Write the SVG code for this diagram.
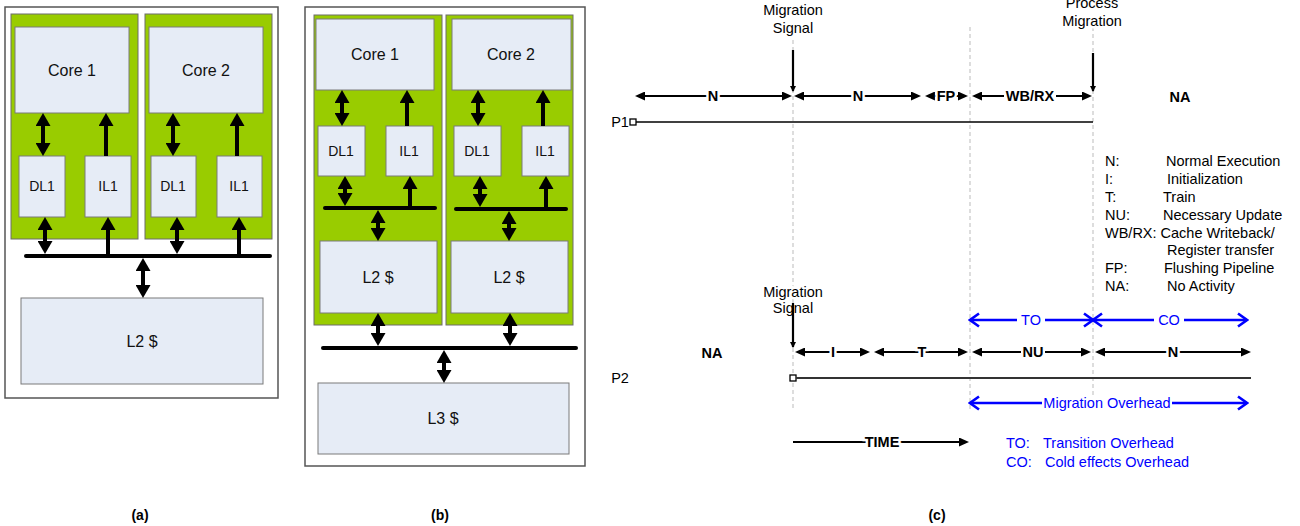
<svg xmlns="http://www.w3.org/2000/svg" width="1300" height="526" viewBox="0 0 1300 526">
<style>
text{font-family:"Liberation Sans",Arial,sans-serif;}
.outer{fill:#fff;stroke:#555;stroke-width:1.5;}
.green{fill:#99cc00;stroke:#6d6d6d;stroke-width:1;}
.box{fill:#e6ecf6;stroke:#7a7a7a;stroke-width:1;}
.t16{font-size:16px;text-anchor:middle;fill:#111;}
.t14{font-size:14px;text-anchor:middle;fill:#111;}
.bus{stroke:#000;stroke-width:4;stroke-linecap:round;}
.big{stroke:#000;stroke-width:4;fill:none;}
.tl{stroke:#000;stroke-width:2.2;fill:none;}
.bl{stroke:#0000ff;stroke-width:2.5;fill:none;}
.lab{font-size:14.5px;text-anchor:middle;fill:#000;}
.bold{font-size:14.5px;font-weight:bold;text-anchor:middle;fill:#000;}
.halo{stroke:#fff;stroke-width:5;paint-order:stroke;}
.blue{font-size:14.5px;text-anchor:middle;fill:#0000ff;}
.leg{font-size:14.5px;fill:#000;}
.bleg{font-size:14.5px;fill:#0000ff;}
.dash{stroke:#bbb;stroke-width:1;stroke-dasharray:4,3;}
.cap{font-size:14px;font-weight:bold;text-anchor:middle;fill:#000;}
.bg{fill:#fff;}
</style>
<defs>
<marker id="bh" viewBox="0 0 13 15" markerWidth="13" markerHeight="15" refX="4" refY="7.5" markerUnits="userSpaceOnUse" orient="auto-start-reverse"><path d="M0,0 L13,7.5 L0,15 z" fill="#000"/></marker>
<marker id="th" viewBox="0 0 10 9" markerWidth="10" markerHeight="9" refX="5" refY="4.5" markerUnits="userSpaceOnUse" orient="auto-start-reverse"><path d="M0,0 L10,4.5 L0,9 z" fill="#000"/></marker>
<marker id="sh" viewBox="0 0 6 6" markerWidth="6" markerHeight="6" refX="5" refY="3" markerUnits="userSpaceOnUse" orient="auto-start-reverse"><path d="M0,0 L6,3 L0,6 z" fill="#000"/></marker>
<marker id="bc" viewBox="-2 -2 13 17" markerWidth="13" markerHeight="17" refX="9" refY="6.5" markerUnits="userSpaceOnUse" orient="auto-start-reverse"><path d="M0,0 L9,6.5 L0,13" fill="none" stroke="#0000ff" stroke-width="2.6"/></marker>
</defs>

<!-- Panel (a) -->
<g id="panel-a">
<rect class="outer" x="5" y="7" width="273" height="391"/>
<g id="a-cluster1"><rect class="green" x="11" y="14" width="127" height="225"/></g>
<g id="a-cluster2"><rect class="green" x="145" y="14" width="127" height="225"/></g>
<g id="a-core1"><rect class="box" x="15" y="27" width="114" height="86"/><text class="t16" x="72" y="76">Core 1</text></g>
<g id="a-core2"><rect class="box" x="149" y="27" width="114" height="86"/><text class="t16" x="206" y="76">Core 2</text></g>
<g id="a-dl1-1"><rect class="box" x="19" y="156" width="46" height="61"/><text class="t14" x="42" y="191">DL1</text></g>
<g id="a-il1-1"><rect class="box" x="85" y="156" width="46" height="61"/><text class="t14" x="108" y="191">IL1</text></g>
<g id="a-dl1-2"><rect class="box" x="151" y="156" width="45" height="61"/><text class="t14" x="173" y="191">DL1</text></g>
<g id="a-il1-2"><rect class="box" x="217" y="156" width="45" height="61"/><text class="t14" x="239" y="191">IL1</text></g>
<g id="a-l2"><rect class="box" x="21" y="298" width="242" height="86"/><text class="t16" x="142" y="347">L2 $</text></g>
</g>

<!-- Panel (b) -->
<g id="panel-b">
<rect class="outer" x="305" y="7" width="280" height="459"/>
<g id="b-cluster1"><rect class="green" x="314" y="15" width="128" height="310"/></g>
<g id="b-cluster2"><rect class="green" x="446" y="15" width="127" height="310"/></g>
<g id="b-core1"><rect class="box" x="316" y="19" width="118" height="71"/><text class="t16" x="375" y="60">Core 1</text></g>
<g id="b-core2"><rect class="box" x="452" y="19" width="119" height="71"/><text class="t16" x="511" y="60">Core 2</text></g>
<g id="b-dl1-1"><rect class="box" x="318" y="126" width="47" height="50"/><text class="t14" x="341" y="156">DL1</text></g>
<g id="b-il1-1"><rect class="box" x="386" y="126" width="47" height="50"/><text class="t14" x="409" y="156">IL1</text></g>
<g id="b-dl1-2"><rect class="box" x="454" y="126" width="47" height="50"/><text class="t14" x="477" y="156">DL1</text></g>
<g id="b-il1-2"><rect class="box" x="522" y="126" width="47" height="50"/><text class="t14" x="545" y="156">IL1</text></g>
<g id="b-l2-1"><rect class="box" x="320" y="241" width="117" height="72"/><text class="t16" x="378" y="283">L2 $</text></g>
<g id="b-l2-2"><rect class="box" x="451" y="241" width="117" height="72"/><text class="t16" x="509" y="283">L2 $</text></g>
<g id="b-l3"><rect class="box" x="318" y="383" width="251" height="71"/><text class="t16" x="443" y="424">L3 $</text></g>
</g>

<!-- Connectors -->
<g id="connectors">
<!-- panel a -->
<line class="bus" x1="26" y1="256" x2="270" y2="256"/>
<line class="big" x1="43" y1="122" x2="43" y2="147" marker-start="url(#bh)" marker-end="url(#bh)"/>
<line class="big" x1="106" y1="156" x2="106" y2="122" marker-end="url(#bh)"/>
<line class="big" x1="45" y1="226" x2="45" y2="245" marker-start="url(#bh)" marker-end="url(#bh)"/>
<line class="big" x1="108" y1="255" x2="108" y2="226" marker-end="url(#bh)"/>
<line class="big" x1="173" y1="122" x2="173" y2="147" marker-start="url(#bh)" marker-end="url(#bh)"/>
<line class="big" x1="237" y1="156" x2="237" y2="122" marker-end="url(#bh)"/>
<line class="big" x1="177" y1="226" x2="177" y2="245" marker-start="url(#bh)" marker-end="url(#bh)"/>
<line class="big" x1="239" y1="255" x2="239" y2="226" marker-end="url(#bh)"/>
<line class="big" x1="143" y1="267" x2="143" y2="289" marker-start="url(#bh)" marker-end="url(#bh)"/>
<!-- panel b -->
<line class="bus" x1="325" y1="208" x2="435" y2="208"/>
<line class="bus" x1="456" y1="209" x2="566" y2="209"/>
<line class="bus" x1="323" y1="348" x2="576" y2="348"/>
<line class="big" x1="342" y1="99" x2="342" y2="117" marker-start="url(#bh)" marker-end="url(#bh)"/>
<line class="big" x1="407" y1="126" x2="407" y2="99" marker-end="url(#bh)"/>
<line class="big" x1="345" y1="185" x2="345" y2="197" marker-start="url(#bh)" marker-end="url(#bh)"/>
<line class="big" x1="410" y1="207" x2="410" y2="185" marker-end="url(#bh)"/>
<line class="big" x1="378" y1="219" x2="378" y2="232" marker-start="url(#bh)" marker-end="url(#bh)"/>
<line class="big" x1="478" y1="99" x2="478" y2="117" marker-start="url(#bh)" marker-end="url(#bh)"/>
<line class="big" x1="543" y1="126" x2="543" y2="99" marker-end="url(#bh)"/>
<line class="big" x1="480" y1="185" x2="480" y2="198" marker-start="url(#bh)" marker-end="url(#bh)"/>
<line class="big" x1="546" y1="208" x2="546" y2="185" marker-end="url(#bh)"/>
<line class="big" x1="509" y1="220" x2="509" y2="232" marker-start="url(#bh)" marker-end="url(#bh)"/>
<line class="big" x1="378" y1="322" x2="378" y2="337" marker-start="url(#bh)" marker-end="url(#bh)"/>
<line class="big" x1="510" y1="322" x2="510" y2="337" marker-start="url(#bh)" marker-end="url(#bh)"/>
<line class="big" x1="444" y1="359" x2="444" y2="374" marker-start="url(#bh)" marker-end="url(#bh)"/>

<!-- panel c dashed guides -->
<line class="dash" x1="793" y1="33" x2="793" y2="410"/>
<line class="dash" x1="970" y1="27" x2="970" y2="410"/>
<line class="dash" x1="1093" y1="27" x2="1093" y2="395"/>

<!-- signal arrows -->
<line class="tl" stroke-width="1.5" x1="793" y1="50" x2="793" y2="91" marker-end="url(#sh)"/>
<line class="tl" stroke-width="1.5" x1="1093" y1="53" x2="1093" y2="91" marker-end="url(#sh)"/>
<line class="tl" stroke-width="1.5" x1="793" y1="303" x2="793" y2="347" marker-end="url(#sh)"/>

<!-- P1 row -->
<line class="tl" x1="640" y1="96" x2="787" y2="96" marker-start="url(#th)" marker-end="url(#th)"/>
<line class="tl" x1="799" y1="96" x2="916" y2="96" marker-start="url(#th)" marker-end="url(#th)"/>
<line class="tl" x1="930" y1="96" x2="963" y2="96" marker-start="url(#th)" marker-end="url(#th)"/>
<line class="tl" x1="977" y1="96" x2="1087" y2="96" marker-start="url(#th)" marker-end="url(#th)"/>
<rect x="630" y="119" width="6" height="6" fill="#fff" stroke="#000" stroke-width="1.3"/>
<line stroke="#000" stroke-width="1.5" x1="636" y1="122" x2="1093" y2="122"/>

<!-- P2 row -->
<line class="tl" x1="800" y1="352" x2="865" y2="352" marker-start="url(#th)" marker-end="url(#th)"/>
<line class="tl" x1="879" y1="352" x2="963" y2="352" marker-start="url(#th)" marker-end="url(#th)"/>
<line class="tl" x1="977" y1="352" x2="1086" y2="352" marker-start="url(#th)" marker-end="url(#th)"/>
<line class="tl" x1="1100" y1="352" x2="1246" y2="352" marker-start="url(#th)" marker-end="url(#th)"/>
<rect x="790" y="375" width="6" height="6" fill="#fff" stroke="#000" stroke-width="1.3"/>
<line stroke="#333" stroke-width="2" x1="796" y1="378" x2="1251" y2="378"/>

<!-- blue overhead arrows -->
<line class="bl" x1="970" y1="320" x2="1093" y2="320" marker-start="url(#bc)" marker-end="url(#bc)"/>
<line class="bl" x1="1093" y1="320" x2="1247" y2="320" marker-start="url(#bc)" marker-end="url(#bc)"/>
<line class="bl" x1="970" y1="403" x2="1247" y2="403" marker-start="url(#bc)" marker-end="url(#bc)"/>

<!-- time arrow -->
<line class="tl" stroke-width="1.5" x1="793" y1="442" x2="964" y2="442" marker-end="url(#th)"/>
</g>

<!-- Panel (c) texts -->
<g id="panel-c-text">
<text class="lab halo" x="793" y="15">Migration</text>
<text class="lab halo" x="793" y="33">Signal</text>
<text class="lab halo" x="1092" y="8">Process</text>
<text class="lab halo" x="1092" y="26">Migration</text>
<text class="bold halo" x="713" y="101">N</text>
<text class="bold halo" x="858" y="101">N</text>
<text class="bold halo" x="946" y="101">FP</text>
<rect class="bg" x="1004" y="89" width="52" height="14"/>
<text class="bold" x="1030" y="101">WB/RX</text>
<text class="bold" x="1180" y="102">NA</text>
<text class="lab" x="620" y="127">P1</text>

<text class="leg" x="1105" y="166">N:</text><text class="leg" x="1166" y="166">Normal Execution</text>
<text class="leg" x="1105" y="184">I:</text><text class="leg" x="1167" y="184">Initialization</text>
<text class="leg" x="1105" y="202">T:</text><text class="leg" x="1163" y="202">Train</text>
<text class="leg" x="1105" y="220">NU:</text><text class="leg" x="1163" y="220">Necessary Update</text>
<text class="leg" x="1105" y="238">WB/RX: Cache Writeback/</text>
<text class="leg" x="1167" y="255">Register transfer</text>
<text class="leg" x="1105" y="273">FP:</text><text class="leg" x="1164" y="273">Flushing Pipeline</text>
<text class="leg" x="1105" y="291">NA:</text><text class="leg" x="1167" y="291">No Activity</text>

<text class="lab halo" x="793" y="297">Migration</text>
<text class="lab" x="793" y="313">Signal</text>
<text class="bold" x="712" y="358">NA</text>
<text class="lab" x="620" y="383">P2</text>
<text class="bold halo" x="833" y="357">I</text>
<text class="bold halo" x="922" y="357">T</text>
<rect class="bg" x="1021" y="345" width="24" height="14"/>
<text class="bold" x="1033" y="357">NU</text>
<text class="bold halo" x="1173" y="357">N</text>

<rect class="bg" x="1017" y="313" width="28" height="14"/>
<text class="blue" x="1031" y="325">TO</text>
<rect class="bg" x="1154" y="313" width="30" height="14"/>
<text class="blue" x="1169" y="325">CO</text>
<rect class="bg" x="1042" y="396" width="130" height="14"/>
<text class="blue" x="1107" y="408">Migration Overhead</text>

<text class="bold halo" x="882" y="447">TIME</text>
<text class="bleg" x="1006" y="448">TO:</text><text class="bleg" x="1043" y="448">Transition Overhead</text>
<text class="bleg" x="1006" y="467">CO:</text><text class="bleg" x="1045" y="467">Cold effects Overhead</text>
</g>

<g id="captions">
<text class="cap" x="140" y="520">(a)</text>
<text class="cap" x="440" y="520">(b)</text>
<text class="cap" x="937" y="520">(c)</text>
</g>
</svg>
